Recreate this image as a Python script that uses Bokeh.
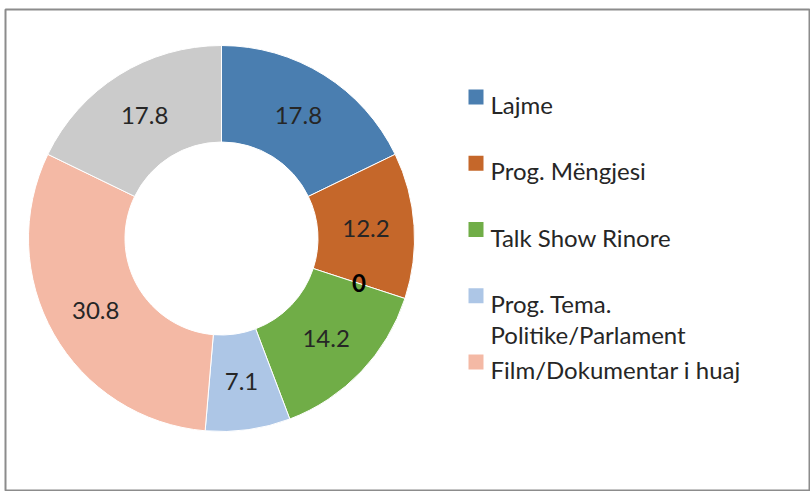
import math
from bokeh.plotting import figure
from bokeh.models import Range1d, ColumnDataSource
from bokeh.core.properties import value
from bokeh.embed import file_html
from bokeh.resources import INLINE

# ---- data ----
slices = ["Lajme", "Prog. Mëngjesi", "Të tjera (0)", "Talk Show Rinore",
          "Prog. Tema.\nPolitike/Parlament", "Film/Dokumentar i huaj", "Të tjera"]
values = [17.8, 12.2, 0.0, 14.2, 7.1, 30.8, 17.8]
colors = ["#4A7EB0", "#C5672A", "#9E480E", "#70AD47", "#ADC6E6", "#F4B9A5", "#CBCBCB"]
legend_shown = ["Lajme", "Prog. Mëngjesi", "Talk Show Rinore",
                "Prog. Tema.\nPolitike/Parlament", "Film/Dokumentar i huaj"]

# ---- layout (page pixels: x = page x, y = -page y) ----
W, H = 810, 491
FX, FY = 5, 9
cx, cy = 221, -238
r_out, r_in = 193, 96.5
r_lab = (r_out + r_in) / 2
FONT = "Lato"
FS = "24px"
TXT = "#262626"

p = figure(width=W, height=H, output_backend="svg", toolbar_location=None,
           x_range=Range1d(FX, W), y_range=Range1d(-H, -FY),
           x_axis_location=None, y_axis_location=None,
           min_border_left=FX, min_border_top=FY, min_border_right=0,
           min_border_bottom=0,
           background_fill_color="white", border_fill_color="white")
p.grid.visible = False
p.outline_line_color = "#8C8C8C"
p.outline_line_width = 2

total = sum(values)
starts, ends, lx, ly, labs = [], [], [], [], []
cum = 0.0
for v in values:
    a0 = math.pi / 2 - 2 * math.pi * cum / total
    cum += v
    a1 = math.pi / 2 - 2 * math.pi * cum / total
    starts.append(a0)
    ends.append(a1)
    mid = (a0 + a1) / 2
    lx.append(cx + r_lab * math.cos(mid))
    ly.append(cy + r_lab * math.sin(mid))
    labs.append("0" if v == 0 else f"{v:.1f}")

keep = [i for i, v in enumerate(values) if v > 0]
wsrc = ColumnDataSource(dict(start=[starts[i] for i in keep],
                             end=[ends[i] for i in keep],
                             color=[colors[i] for i in keep]))
p.annular_wedge(x=cx, y=cy, inner_radius=r_in, outer_radius=r_out,
                start_angle="start", end_angle="end", direction="clock",
                fill_color="color", line_color="white", line_width=1, source=wsrc)

nz = [i for i, v in enumerate(values) if v > 0]
z = [i for i, v in enumerate(values) if v == 0]
p.text(x=[lx[i] for i in nz], y=[ly[i] for i in nz], text=[labs[i] for i in nz],
       text_font=value(FONT), text_font_size=FS, text_color=TXT,
       text_align="center", text_baseline="middle")
p.text(x=[lx[i] for i in z], y=[ly[i] for i in z], text=[labs[i] for i in z],
       text_font=value(FONT), text_font_size=FS, text_color="black",
       text_font_style="bold", text_align="center", text_baseline="middle")

# ---- legend ----
lg_x, lg_y0, lg_dy, sq = 475.5, -96.5, -66.25, 15
line_h = 31
sq_x, sq_y, sq_c, tx, ty, tt = [], [], [], [], [], []
for i, name in enumerate(legend_shown):
    yc = lg_y0 + lg_dy * i
    sq_x.append(lg_x)
    sq_y.append(yc)
    sq_c.append(colors[slices.index(name)])
    for j, line in enumerate(name.split("\n")):
        tx.append(lg_x + 14.5)
        ty.append(yc - sq / 2 - j * line_h)
        tt.append(line)

p.rect(x=sq_x, y=sq_y, width=sq, height=sq, fill_color=sq_c, line_color=None)
p.text(x=tx, y=ty, text=tt, text_font=value(FONT), text_font_size=FS,
       text_color=TXT, text_align="left", text_baseline="alphabetic")

open("out.html", "w").write(file_html(p, INLINE))
